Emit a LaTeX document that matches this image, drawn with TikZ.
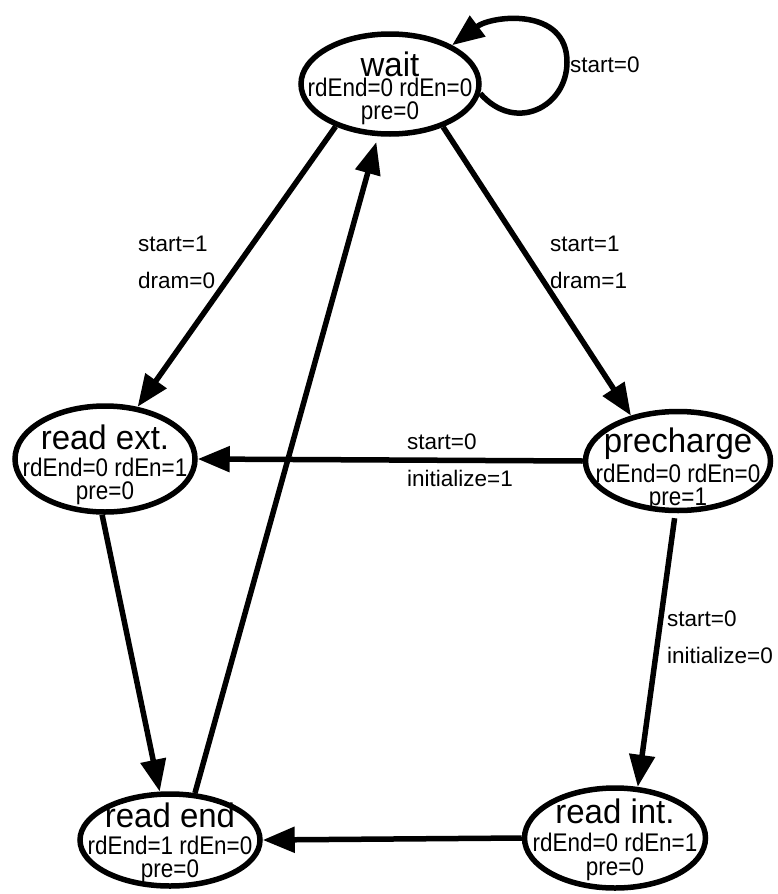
\documentclass[tikz,border=0pt]{standalone}
\usepackage{fontspec}
\usetikzlibrary{shapes.geometric,arrows.meta}
\newfontfamily\titlef[FakeStretch=0.97]{Liberation Sans}
\newfontfamily\smallf[FakeStretch=0.88]{Liberation Sans}
\newfontfamily\edgef{Liberation Sans}
\newcommand\ttl[1]{{\titlef\fontsize{34}{23}\selectfont #1}}
\newcommand\stfont{\smallf\fontsize{25.5}{23}\selectfont\lineskiplimit=-50pt\relax}
\newcommand\edfont{\edgef\fontsize{22.5}{37}\selectfont\lineskiplimit=-50pt\relax}
\begin{document}
\begin{tikzpicture}[x=1pt,y=-1pt,
  state/.style={draw,ellipse,line width=5.5pt,inner sep=0pt},
  stext/.style={align=center,inner sep=0pt,font=\stfont},
  elabel/.style={anchor=base west,inner sep=0pt,align=left,font=\edfont},
  arr/.style={line width=5.5pt,-{Triangle[length=32pt,width=25pt]}}]
\useasboundingbox (0,0) rectangle (778,894);

% states
\node[state,minimum width=178pt,minimum height=100pt] (wait) at (390,84) {};
\node[state,minimum width=180pt,minimum height=106pt] (rext) at (105,459) {};
\node[state,minimum width=185pt,minimum height=99pt]  (pre)  at (678,461) {};
\node[state,minimum width=180pt,minimum height=92pt]  (rend) at (170,840) {};
\node[state,minimum width=181pt,minimum height=100pt] (rint) at (615,838) {};

% state contents
\node[stext,yshift=-4pt] (wait-t) at (wait.center) {\ttl{wait}\\[-3pt]rdEnd=0 rdEn=0\\pre=0};
\node[stext,yshift=-6pt] (rext-t) at (rext.center) {\ttl{read ext.}\\[4pt]rdEnd=0 rdEn=1\\pre=0};
\node[stext,yshift=-8pt] (pre-t)  at (pre.center)  {\ttl{precharge}\\[7pt]rdEnd=0 rdEn=0\\pre=1};
\node[stext,yshift=-3pt] (rend-t) at (rend.center) {\ttl{read end}\\[4pt]rdEnd=1 rdEn=0\\pre=0};
\node[stext,yshift=-2pt] (rint-t) at (rint.center) {\ttl{read int.}\\[5pt]rdEnd=0 rdEn=1\\[1pt]pre=0};

% transitions
\draw[arr] (wait.-6) .. controls +(35,40) and +(0,45) .. (567,62)
           .. controls +(0,-55) and +(40,-30) .. (wait.32);
\draw[arr] (wait.218) -- (rext.58);
\draw[arr] (wait.-39) -- (pre.136);
\draw[arr,shorten >=6pt] (rend.62) -- (wait.-103);
\draw[arr] (pre.west) -- (rext.east);
\draw[arr,shorten <=5pt] (pre.-93) -- (rint.66);
\draw[arr] (rext.-93) -- (rend.102);
\draw[arr] (rint.west) -- (rend.east);

% transition labels
\node[elabel] (l-loop) at (570,72)  {start=0};
\node[elabel] (l-ext)  at (138,288) {start=1\\dram=0};
\node[elabel] (l-pre)  at (550,288) {start=1\\dram=1};
\node[elabel] (l-init1) at (407,486) {start=0\\initialize=1};
\node[elabel] (l-init0) at (667,663) {start=0\\initialize=0};
\end{tikzpicture}
\end{document}
